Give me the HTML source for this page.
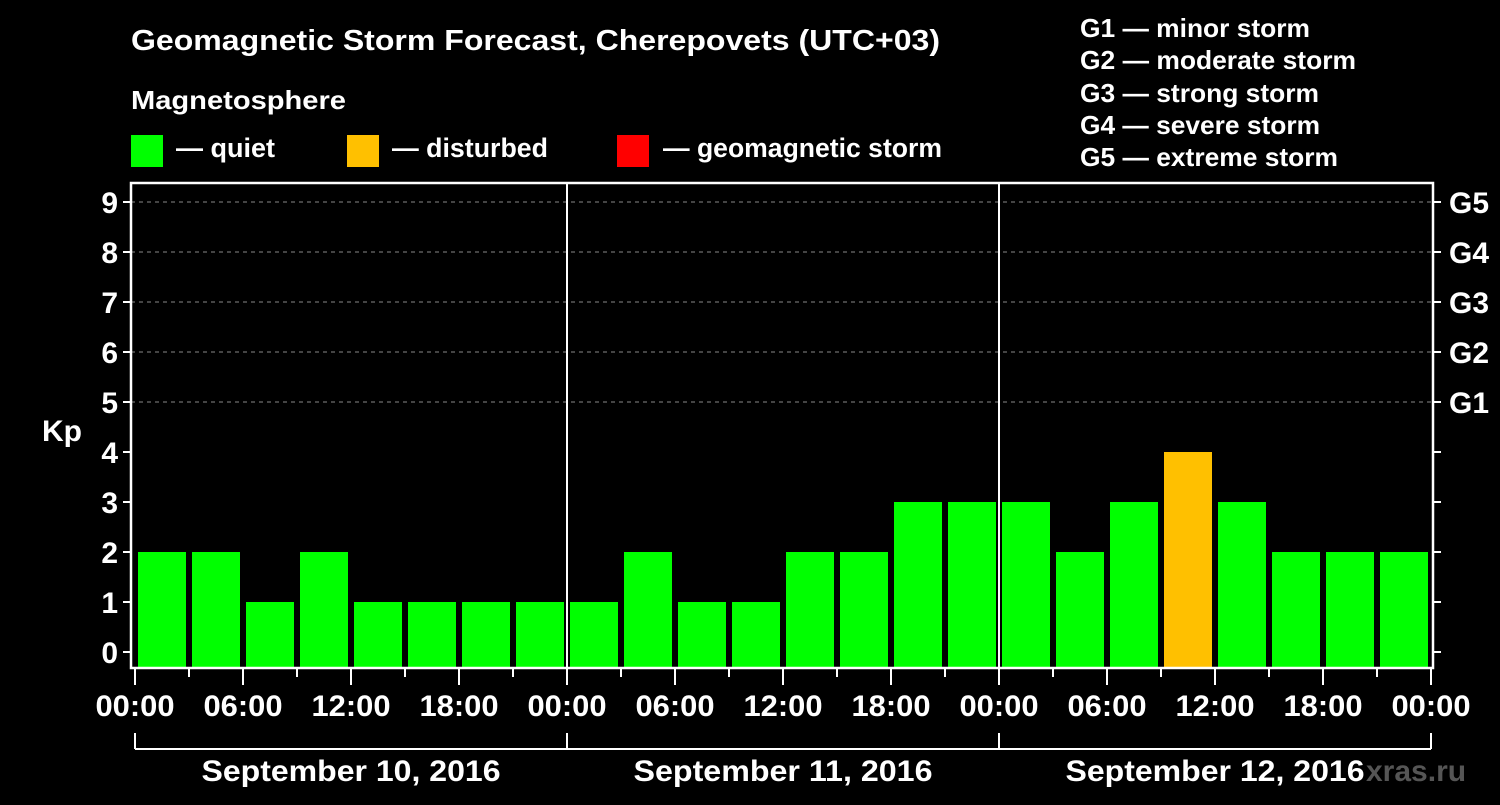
<!DOCTYPE html>
<html><head><meta charset="utf-8"><style>
body{margin:0;background:#000;width:1500px;height:800px;overflow:hidden}
svg text{font-family:"Liberation Sans",Arial,sans-serif;font-weight:bold;fill:#fff}
</style></head><body>
<svg id="c" width="1500" height="800">
<rect width="1500" height="800" fill="#000"/>
<text x="131" y="50" font-size="29" textLength="809" lengthAdjust="spacingAndGlyphs">Geomagnetic Storm Forecast, Cherepovets (UTC+03)</text>
<text x="131" y="109" font-size="26" textLength="215" lengthAdjust="spacingAndGlyphs">Magnetosphere</text>
<g><rect x="131" y="135" width="32" height="32" fill="#00ff00"/><text x="176" y="157" font-size="27" textLength="99" lengthAdjust="spacingAndGlyphs">— quiet</text></g>
<g><rect x="347" y="135" width="32" height="32" fill="#ffc000"/><text x="392" y="157" font-size="27" textLength="156" lengthAdjust="spacingAndGlyphs">— disturbed</text></g>
<g><rect x="617" y="135" width="32" height="32" fill="#ff0000"/><text x="663" y="157" font-size="27" textLength="279" lengthAdjust="spacingAndGlyphs">— geomagnetic storm</text></g>
<g font-size="26">
<text x="1080" y="37" textLength="230" lengthAdjust="spacingAndGlyphs">G1 — minor storm</text>
<text x="1080" y="69" textLength="276" lengthAdjust="spacingAndGlyphs">G2 — moderate storm</text>
<text x="1080" y="102" textLength="239" lengthAdjust="spacingAndGlyphs">G3 — strong storm</text>
<text x="1080" y="134" textLength="240" lengthAdjust="spacingAndGlyphs">G4 — severe storm</text>
<text x="1080" y="166" textLength="258" lengthAdjust="spacingAndGlyphs">G5 — extreme storm</text>
</g>
<text x="42" y="441" font-size="30">Kp</text>
<text x="1366" y="781" font-size="30" style="fill:#555">xras.ru</text>
<g id="grid"></g><g id="bars"></g><g id="axes"></g>
</svg>
<script>
const kpValues=[2,2,1,2,1,1,1,1, 1,2,1,1,2,2,3,3, 3,2,3,4,3,2,2,2];
const dayLabels=["September 10, 2016","September 11, 2016","September 12, 2016"];
const hourLabels=["00:00","06:00","12:00","18:00"];
const gLabels=["G1","G2","G3","G4","G5"];
const NS="http://www.w3.org/2000/svg";
const X0=135,SLOT=54,Y0=652,UNIT=50,L=131,R=1433,T=183,B=668;
const xs=i=>X0+i*SLOT, ys=v=>Y0-v*UNIT;
function mk(t,a,p){const e=document.createElementNS(NS,t);for(const k in a)e.setAttribute(k,a[k]);document.getElementById(p).appendChild(e);return e;}
for(let v=5;v<=9;v++){const g=mk('line',{x1:L,x2:R,y1:ys(v),y2:ys(v),stroke:'#888','stroke-dasharray':'4,4'},'grid');

}
kpValues.forEach((v,i)=>{const col=v>=5?'#ff0000':v>=4?'#ffc000':'#00ff00';
const r=mk('rect',{x:xs(i)+3,y:ys(v),width:48,height:B-ys(v),fill:col},'bars');

});
const f=mk('rect',{x:L,y:T,width:R-L,height:B-T,fill:'none',stroke:'#fff','stroke-width':2.5},'axes');


for(let d=1;d<3;d++){const s=mk('line',{x1:xs(d*8),x2:xs(d*8),y1:T,y2:B,stroke:'#fff','stroke-width':2},'axes');

}
for(let v=0;v<=9;v++){mk('line',{x1:L-8,x2:L,y1:ys(v),y2:ys(v),stroke:'#fff','stroke-width':2},'axes');
mk('line',{x1:R,x2:R+8,y1:ys(v),y2:ys(v),stroke:'#fff','stroke-width':2},'axes');
const t=mk('text',{x:L-13,y:ys(v)+11,'font-size':30,'text-anchor':'end'},'axes');t.textContent=v;

}
gLabels.forEach((g,i)=>{const t=mk('text',{x:R+16,y:ys(5+i)+11,'font-size':30},'axes');t.textContent=g;

});
for(let i=0;i<=24;i++){const long=i%2===0;mk('line',{x1:xs(i),x2:xs(i),y1:B,y2:long?685:677,stroke:'#fff','stroke-width':2},'axes');
if(long){const t=mk('text',{x:xs(i),y:716,'font-size':30,'text-anchor':'middle','textLength':79,'lengthAdjust':'spacingAndGlyphs'},'axes');t.textContent=hourLabels[(i/2)%4];

}}
mk('line',{x1:xs(0),x2:xs(24),y1:749,y2:749,stroke:'#fff','stroke-width':2},'axes');
for(let d=0;d<=3;d++)mk('line',{x1:xs(d*8),x2:xs(d*8),y1:733,y2:749,stroke:'#fff','stroke-width':2},'axes');
dayLabels.forEach((l,d)=>{const t=mk('text',{x:xs(d*8+4),y:781,'font-size':30,'text-anchor':'middle','textLength':299,'lengthAdjust':'spacingAndGlyphs'},'axes');t.textContent=l;

});
</script>
</body></html>
